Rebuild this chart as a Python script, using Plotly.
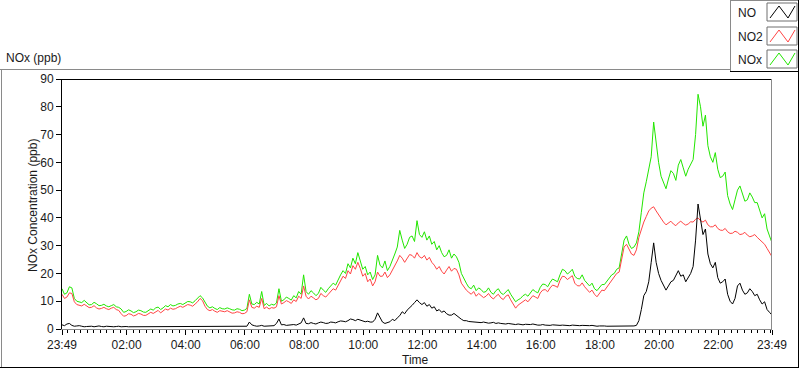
import pandas as pd
import plotly.graph_objects as go

# ---------------- data (5-minute readings from 23:49 to 23:49 next day) ----------------
start_time = "2000-01-01 23:49"
step = "5min"

no_vals = [
    1.5, 1.2, 1.8, 2.0, 1.3, 1.0, 1.1, 1.2, 1.0, 0.8, 0.9, 1.0,
    1.0, 0.8, 0.9, 1.1, 0.9, 0.8, 1.0, 0.9, 0.9, 0.8, 0.9, 1.0,
    0.8, 0.9, 0.9, 0.8, 0.8, 0.9, 0.9, 0.8, 0.9, 1.0, 0.8, 0.9,
    0.9, 0.8, 0.9, 1.0, 0.8, 0.9, 0.9, 0.8, 0.9, 1.0, 0.8, 0.9,
    0.9, 0.8, 0.9, 1.0, 1.0, 0.9, 0.9, 1.0, 1.0, 0.9, 0.9, 0.8,
    0.8, 0.9, 0.9, 0.8, 0.8, 0.9, 0.8, 0.8, 0.9, 0.8, 0.8, 0.9,
    0.8, 0.8, 0.8, 1.0, 2.5, 1.5, 1.2, 1.0, 1.1, 1.3, 1.0, 1.1,
    1.0, 1.2, 1.2, 2.0, 3.6, 1.5, 1.6, 1.3, 1.4, 1.5, 1.6, 1.4,
    1.8, 2.2, 4.0, 2.0, 1.9, 2.3, 2.0, 1.8, 2.2, 2.5, 2.3, 2.0,
    2.1, 2.5, 2.4, 2.2, 2.6, 2.9, 2.8, 2.6, 3.0, 3.6, 3.4, 3.0,
    3.5, 3.2, 3.0, 2.6, 2.8, 2.5, 2.5, 3.5, 5.8, 4.0, 2.5, 2.0,
    2.2, 2.6, 3.5, 3.0, 4.0, 4.8, 6.2, 5.5, 6.8, 7.5, 8.5, 9.5,
    10.5, 9.5, 8.8, 9.5, 8.2, 8.8, 7.5, 8.0, 6.5, 7.0, 6.0, 6.5,
    5.5, 5.0, 5.0, 5.6, 4.8, 4.2, 3.5, 3.0, 3.0, 2.7, 2.6, 2.4,
    2.5, 2.2, 2.3, 2.5, 2.3, 2.1, 2.2, 2.4, 2.0, 2.2, 2.0, 1.9,
    1.8, 2.0, 1.8, 1.6, 1.6, 1.8, 1.7, 1.5, 1.7, 1.6, 1.6, 1.8,
    1.5, 1.4, 1.4, 1.6, 1.4, 1.3, 1.3, 1.5, 1.4, 1.2, 1.3, 1.4,
    1.3, 1.1, 1.2, 1.4, 1.3, 1.2, 1.2, 1.3, 1.2, 1.1, 1.2, 1.3,
    1.1, 1.0, 1.1, 1.2, 1.1, 1.0, 1.0, 1.1, 1.0, 0.9, 1.0, 1.1,
    1.0, 0.9, 1.1, 1.0, 1.1, 1.3, 3.0, 7.0, 12.0, 13.5, 17.0, 24.0,
    31.0, 24.0, 20.0, 17.5, 15.5, 14.0, 15.5, 17.0, 17.5, 19.5, 21.0, 19.0,
    19.5, 17.0, 18.5, 20.0, 22.5, 32.0, 45.0, 40.0, 34.0, 36.0, 27.0, 23.5,
    22.0, 24.0, 18.5, 16.5, 17.0, 18.0, 12.5, 10.0, 9.0, 11.0, 15.5, 16.5,
    14.0, 12.5, 13.0, 14.5, 13.5, 12.0, 12.5, 10.5, 9.0, 9.8, 7.0, 6.0,
    5.0,
]

no2_vals = [
    12.5, 11.0, 11.5, 13.0, 12.8, 9.8, 8.8, 8.6, 8.3, 8.9, 8.2, 7.7,
    7.8, 8.4, 7.6, 7.2, 7.4, 7.8, 7.3, 7.0, 7.5, 7.8, 7.0, 6.7,
    5.5, 4.6, 4.8, 5.5, 5.3, 4.7, 5.0, 5.6, 5.4, 4.9, 4.9, 5.5,
    6.0, 5.6, 6.3, 6.7, 5.8, 6.4, 7.2, 6.8, 7.5, 7.1, 7.3, 7.8,
    8.2, 7.8, 8.3, 8.8, 8.6, 8.2, 9.0, 9.8, 11.0, 10.2, 8.2, 7.0,
    6.6, 7.0, 6.4, 6.0, 6.6, 6.3, 6.2, 6.6, 6.0, 5.7, 5.8, 6.2,
    6.0, 5.5, 5.6, 6.2, 10.5, 7.8, 7.5, 8.2, 7.8, 11.0, 7.3, 7.9,
    7.2, 7.7, 7.5, 8.0, 12.0, 9.0, 9.5, 10.2, 9.8, 9.2, 10.5, 9.9,
    11.8, 11.0, 15.5, 11.8, 10.8, 11.8, 11.2, 10.5, 11.0, 12.8, 12.0, 11.5,
    12.5, 13.5, 14.5, 14.0, 15.8, 17.2, 19.0, 18.2, 21.0, 19.8, 22.8, 21.5,
    24.0, 21.8, 19.0, 20.0, 17.0, 18.0, 15.5, 17.0, 20.5, 19.0, 19.0, 20.5,
    18.5, 19.5, 21.0, 23.0, 24.5, 26.5, 25.5, 24.0, 25.5, 26.8, 26.5, 25.5,
    27.5, 26.0, 25.5, 26.5, 24.8, 25.8, 24.0, 23.0, 21.5, 22.5, 20.8, 19.8,
    21.2, 22.5, 20.8, 21.8, 21.5, 19.5, 16.5, 15.0, 14.0, 13.2, 12.5, 13.5,
    11.8, 12.8, 12.2, 11.3, 11.8, 12.8, 11.5, 10.8, 11.8, 12.5, 11.2, 10.6,
    11.8, 12.3, 10.5, 8.8, 7.5, 8.6, 9.2, 10.0, 10.5, 9.8, 11.0, 12.0,
    11.5, 11.0, 13.0, 14.0, 14.2, 13.4, 14.8, 15.8, 15.5, 15.0, 17.5, 19.0,
    18.8, 17.8, 18.5, 19.2, 16.5, 15.6, 15.5, 16.6, 15.2, 14.2, 13.2, 14.0,
    12.5, 11.6, 13.0, 14.0, 13.8, 15.0, 16.0, 17.2, 18.5, 20.0, 20.5, 25.0,
    29.5, 30.5, 28.5, 27.0, 26.5, 28.5, 33.0, 36.0, 38.5, 40.5, 42.5, 43.5,
    44.0, 42.5, 41.0, 39.5, 38.5, 37.5, 38.0, 38.8, 37.8, 37.2, 38.2, 38.8,
    38.0, 37.4, 37.8, 38.6, 38.5, 39.5, 40.0, 39.0, 38.5, 39.2, 37.5, 36.8,
    36.8, 37.5, 36.2, 35.6, 35.5, 36.2, 35.0, 34.4, 34.5, 35.2, 34.8, 34.0,
    34.2, 34.8, 33.8, 33.2, 33.5, 34.0, 33.0, 32.2, 31.5, 30.5, 29.0, 27.5,
    26.0,
]

nox_vals = [
    14.5, 12.5, 13.0, 15.2, 14.8, 11.0, 10.0, 9.8, 9.5, 10.3, 9.3, 8.7,
    8.8, 9.6, 9.1, 8.4, 8.5, 8.9, 8.3, 8.0, 8.4, 8.8, 8.0, 7.8,
    7.2, 6.0, 6.3, 6.9, 6.5, 5.9, 6.2, 6.8, 6.6, 6.1, 6.0, 6.7,
    7.2, 6.8, 7.6, 7.9, 7.0, 7.6, 8.4, 8.0, 8.8, 8.3, 8.5, 9.0,
    9.2, 8.8, 9.4, 9.9, 9.8, 9.4, 10.2, 11.0, 12.0, 11.2, 9.5, 8.2,
    7.6, 8.0, 7.4, 7.0, 7.7, 7.3, 7.2, 7.6, 7.3, 6.9, 6.8, 7.3,
    7.1, 6.6, 6.8, 7.4, 12.5, 9.0, 8.8, 9.6, 9.0, 13.5, 8.5, 9.2,
    8.3, 8.9, 8.6, 9.4, 14.5, 10.0, 10.5, 11.5, 11.0, 10.4, 12.0, 11.2,
    13.5, 12.5, 19.5, 13.5, 12.5, 13.8, 13.0, 12.0, 12.8, 15.0, 14.0, 13.2,
    14.5, 15.5, 16.5, 15.8, 17.8, 19.5, 21.0, 20.0, 23.5, 22.0, 25.5, 23.5,
    27.5, 24.0, 21.5, 22.5, 19.5, 20.5, 17.8, 19.5, 26.5, 23.0, 22.0, 24.5,
    21.0, 22.5, 24.5, 27.0, 29.5, 35.5, 32.0, 29.0, 30.5, 33.0, 33.5, 31.5,
    39.0, 34.0, 33.0, 35.0, 32.0, 33.5, 30.5, 31.5, 28.5, 30.0, 27.5, 26.0,
    26.5, 28.5, 25.5, 27.0, 26.0, 24.0, 20.0, 18.0, 16.5, 15.0, 14.5, 15.8,
    13.8, 14.8, 14.2, 13.2, 13.5, 14.8, 13.2, 12.5, 13.8, 14.5, 13.0, 12.4,
    13.5, 14.2, 12.5, 11.0, 9.8, 10.5, 11.0, 12.0, 12.5, 11.8, 13.0, 14.2,
    13.5, 13.0, 15.0, 16.2, 16.0, 15.2, 16.8, 18.0, 17.5, 17.0, 19.5, 21.5,
    21.0, 19.8, 20.5, 21.5, 19.0, 18.2, 18.0, 19.5, 17.5, 16.5, 15.5, 16.5,
    14.5, 13.8, 15.0, 16.0, 16.0, 17.2, 18.0, 19.5, 20.0, 21.5, 22.0, 27.0,
    32.0, 33.5, 30.5, 29.0, 29.5, 31.0, 35.0, 42.0, 49.0, 53.0, 57.0, 62.0,
    74.5, 66.0, 60.0, 55.0, 52.5, 50.5, 54.0, 57.0, 56.0, 53.5, 59.0, 61.0,
    58.0, 55.0, 57.5, 59.5, 61.0, 70.0, 84.5, 80.0, 73.0, 77.0, 66.0, 62.0,
    60.0, 63.5, 57.5, 54.5, 55.0, 56.5, 48.0, 45.0, 43.0, 46.5, 50.0, 51.5,
    48.5, 46.0, 46.5, 49.0, 47.5, 45.5, 45.5, 43.0, 40.0, 41.5, 36.0, 33.5,
    31.0,
]

series_names = ["NO", "NO2", "NOx"]
series_colors = ["#000000", "#FF4444", "#22E600"]

y_ticks = [0, 10, 20, 30, 40, 50, 60, 70, 80, 90]
x_tick_hours = ["02:00", "04:00", "06:00", "08:00", "10:00", "12:00",
                "14:00", "16:00", "18:00", "20:00", "22:00"]

# ---------------- figure ----------------
times = pd.date_range(start_time, periods=len(nox_vals), freq=step)
t0, t1 = times[0], times[-1]
day2 = t1.normalize()

tickvals = [t0] + [pd.Timestamp(f"{day2.date()} {h}") for h in x_tick_hours] + [t1]
ticktext = [t0.strftime("%H:%M")] + x_tick_hours + [t1.strftime("%H:%M")]
minor_vals = [t for t in pd.date_range(day2 - pd.Timedelta("2h"), t1, freq="800s") if t0 <= t <= t1]

FONT = "Liberation Sans"
TXT = "#1a1a1a"

W, H = 800, 369
L, R, T, B = 62, 28, 79, 40
PW, PH = W - L - R, H - T - B


def px(x):
    return (x - L) / PW


def py(y):
    return (H - B - y) / PH


fig = go.Figure()
values = {"NO": no_vals, "NO2": no2_vals, "NOx": nox_vals}
for name in ["NOx", "NO2", "NO"]:
    col = series_colors[series_names.index(name)]
    fig.add_trace(go.Scatter(x=times, y=values[name], mode="lines", name=name,
                             line=dict(color=col, width=1),
                             showlegend=False))

shapes = []


def line(x0, y0, x1, y1, color, width=1):
    shapes.append(dict(type="line", xref="paper", yref="paper",
                       x0=px(x0), y0=py(y0), x1=px(x1), y1=py(y1),
                       line=dict(color=color, width=width)))


# plot frame (top black, right gray)
line(L, T + 0.5, L + PW, T + 0.5, "#000000")
line(L + PW - 0.5, T, L + PW - 0.5, T + PH, "#8a8a8a")
# outer panel
line(0, 69.5, 730, 69.5, "#8a8a8a")
line(1.5, 69, 1.5, 368, "#8a8a8a")
line(0, 367.5, 799, 367.5, "#000000")
line(798.5, 71, 798.5, 368, "#000000")
# legend box
line(730.5, 0, 730.5, 72, "#8a8a8a")
line(730, 0.5, 799, 0.5, "#8a8a8a")
line(730, 71.5, 799, 71.5, "#000000")
line(798.5, 0, 798.5, 72, "#000000")

annotations = []
swatch_tops = [3, 27, 50]
label_centers = [13, 37, 60]
for i, name in enumerate(series_names):
    top = swatch_tops[i]
    bot = top + 18
    shapes.append(dict(type="rect", xref="paper", yref="paper",
                       x0=px(767), x1=px(797), y0=py(top), y1=py(bot),
                       line=dict(color="#6e6e6e", width=1), fillcolor="white"))
    pts = [(770, bot - 3), (779, top + 3), (788, bot - 3), (795, top + 3)]
    path = "M " + " L ".join(f"{px(a):.5f},{py(b):.5f}" for a, b in pts)
    shapes.append(dict(type="path", xref="paper", yref="paper", path=path,
                       line=dict(color=series_colors[i], width=1)))
    annotations.append(dict(text=name, xref="paper", yref="paper",
                            x=px(736), y=py(label_centers[i]), xanchor="left",
                            yanchor="middle", showarrow=False,
                            font=dict(family=FONT, size=12, color=TXT)))

annotations += [
    dict(text="NOx (ppb)", xref="paper", yref="paper", x=px(4), y=py(58),
         xanchor="left", yanchor="middle", showarrow=False,
         font=dict(family=FONT, size=12, color=TXT)),
    dict(text="NOx Concentration (ppb)", xref="paper", yref="paper", x=px(33),
         y=py(206), xanchor="center", yanchor="middle", textangle=-90,
         showarrow=False, font=dict(family=FONT, size=12, color=TXT)),
    dict(text="Time", xref="paper", yref="paper", x=px(415), y=py(360),
         xanchor="center", yanchor="middle", showarrow=False,
         font=dict(family=FONT, size=12, color=TXT)),
]

fig.update_layout(
    width=W, height=H,
    margin=dict(l=L, r=R, t=T, b=B),
    paper_bgcolor="white", plot_bgcolor="white",
    shapes=shapes, annotations=annotations,
    xaxis=dict(type="date", range=[t0, t1], tickmode="array",
               tickvals=tickvals, ticktext=ticktext, ticks="outside",
               ticklen=5, tickcolor="#000", showgrid=False, zeroline=False,
               showline=True, linecolor="#8a8a8a", linewidth=1,
               tickfont=dict(family=FONT, size=12, color=TXT),
               minor=dict(tickmode="array", tickvals=minor_vals, ticks="outside",
                          ticklen=3, tickcolor="#000", showgrid=False)),
    yaxis=dict(range=[0, 90], tickmode="array", tickvals=y_ticks,
               ticks="outside", ticklen=5, tickcolor="#000", showgrid=False,
               zeroline=False, showline=True, linecolor="#000", linewidth=1,
               tickfont=dict(family=FONT, size=12, color=TXT)),
)

fig.write_html("out.html", config={"displayModeBar": False},
               post_script="document.body.style.margin='0';")
